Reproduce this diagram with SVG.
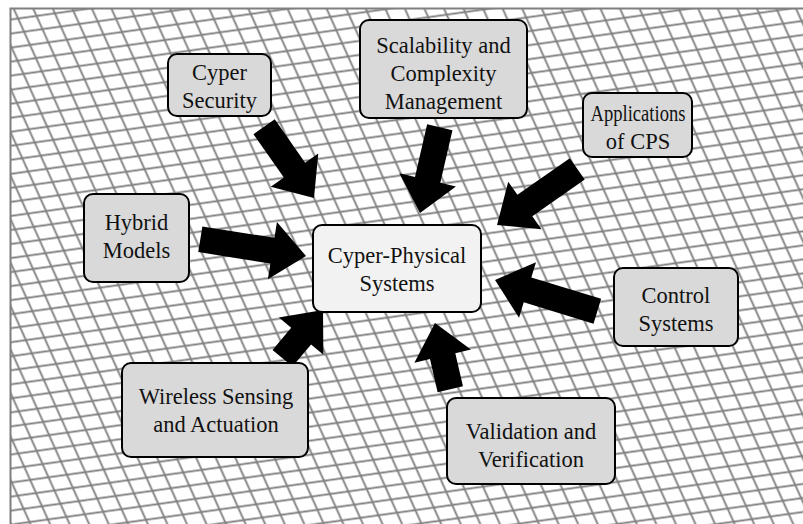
<svg xmlns="http://www.w3.org/2000/svg" width="803" height="524" viewBox="0 0 803 524">
  <defs>
    <!-- slanted mesh used as the backdrop -->
    <pattern id="mesh" patternUnits="userSpaceOnUse" width="18.4" height="13.2" patternTransform="matrix(1 -0.14 0.45 1 0 0)">
      <path d="M0 6.6H18.4M9.2 0V13.2" stroke="#7f7f7f" stroke-width="1.9" fill="none"/>
    </pattern>
    <style>
      .box { fill: #d9d9d9; stroke: #000; stroke-width: 2; }
      .core { fill: #f2f2f2; stroke: #000; stroke-width: 2; }
      .label { font-family: "Liberation Serif", "Times New Roman", serif; font-size: 22.5px; fill: #111; text-anchor: middle; }
      .arrow { fill: #000; stroke: none; }
    </style>
  </defs>

  <!-- backdrop -->
  <rect x="0" y="0" width="803" height="524" fill="#fff"/>
  <rect x="10" y="8" width="793" height="516" fill="url(#mesh)"/>
  <path d="M10.5 524V8.5H803" fill="none" stroke="#7f7f7f" stroke-width="2"/>

  <!-- connectors: block arrows, tip at origin pointing along +x -->
  <g id="connectors">
    <path class="arrow" transform="translate(314,198) rotate(55)" d="M-87,-13 H-34 V-29 L0,0 L-34,29 V13 H-87 Z"/>
    <path class="arrow" transform="translate(420,213) rotate(103)" d="M-88,-13 H-34 V-29 L0,0 L-34,29 V13 H-88 Z"/>
    <path class="arrow" transform="translate(497,225) rotate(145)" d="M-98,-13 H-34 V-29 L0,0 L-34,29 V13 H-98 Z"/>
    <path class="arrow" transform="translate(306,256) rotate(9)" d="M-107,-13 H-34 V-29 L0,0 L-34,29 V13 H-107 Z"/>
    <path class="arrow" transform="translate(495,280) rotate(197)" d="M-107,-13 H-34 V-29 L0,0 L-34,29 V13 H-107 Z"/>
    <path class="arrow" transform="translate(435,323) rotate(257)" d="M-68,-13 H-34 V-29 L0,0 L-34,29 V13 H-68 Z"/>
    <path class="arrow" transform="translate(323,310) rotate(-50)" d="M-63,-13 H-34 V-29 L0,0 L-34,29 V13 H-63 Z"/>
  </g>

  <g id="node-scalability">
    <rect class="box" x="360" y="20" width="167" height="98" rx="9"/>
    <text class="label" x="443.5" y="53">Scalability and</text>
    <text class="label" x="443.5" y="81">Complexity</text>
    <text class="label" x="443.5" y="109">Management</text>
  </g>

  <g id="node-security">
    <rect class="box" x="168" y="54" width="103" height="62" rx="9"/>
    <text class="label" x="219.5" y="80">Cyper</text>
    <text class="label" x="219.5" y="108">Security</text>
  </g>

  <g id="node-applications">
    <rect class="box" x="583" y="93" width="109" height="64" rx="9"/>
    <text class="label" x="638" y="121" textLength="95" lengthAdjust="spacingAndGlyphs">Applications</text>
    <text class="label" x="638" y="149">of CPS</text>
  </g>

  <g id="node-hybrid">
    <rect class="box" x="84" y="194" width="105" height="88" rx="9"/>
    <text class="label" x="136.5" y="230">Hybrid</text>
    <text class="label" x="136.5" y="258">Models</text>
  </g>

  <g id="node-cps">
    <rect class="core" x="313" y="225" width="168" height="87" rx="9"/>
    <text class="label" x="397" y="263">Cyper-Physical</text>
    <text class="label" x="397" y="291">Systems</text>
  </g>

  <g id="node-control">
    <rect class="box" x="614" y="268" width="124" height="78" rx="9"/>
    <text class="label" x="676" y="303">Control</text>
    <text class="label" x="676" y="331">Systems</text>
  </g>

  <g id="node-wireless">
    <rect class="box" x="122" y="363" width="186" height="94" rx="9"/>
    <text class="label" x="216" y="404">Wireless Sensing</text>
    <text class="label" x="216" y="432">and Actuation</text>
  </g>

  <g id="node-validation">
    <rect class="box" x="447" y="398" width="168" height="86" rx="9"/>
    <text class="label" x="531" y="439">Validation and</text>
    <text class="label" x="531" y="467">Verification</text>
  </g>
</svg>
